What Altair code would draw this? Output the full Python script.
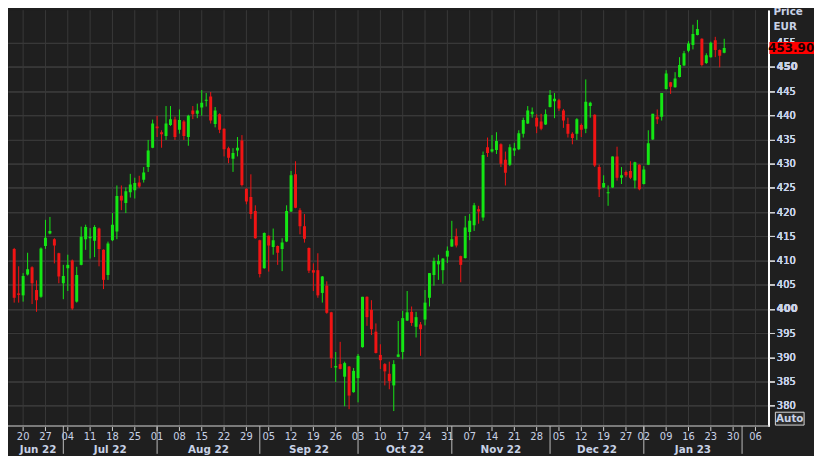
import altair as alt
import pandas as pd
import numpy as np

# ---- daily OHLC, first candle = 2022-06-16 ----
opens = [412.4, 403.2, 402.8, 407.1, 408.6, 403.9, 402.5, 413.0, 415.6, 414.4,
         411.5, 405.3, 408.4, 410.0, 401.5, 409.1, 414.4, 414.6, 414.1, 416.6,
         412.2, 407.0, 414.2, 416.0, 423.4, 421.9, 424.1, 424.5, 426.1, 426.7,
         429.3, 433.3, 437.7, 436.5, 435.7, 438.0, 439.1, 437.0, 438.7, 435.5,
         441.0, 440.3, 441.6, 443.0, 443.9, 438.2, 440.2, 437.2, 433.2, 431.0,
         432.7, 434.8, 424.8, 423.1, 420.2, 414.2, 408.4, 415.1, 412.8, 413.0,
         412.4, 413.9, 420.1, 427.8, 420.4, 417.1, 412.6, 408.0, 408.0, 403.3,
         404.8, 399.3, 387.9, 388.6, 386.0, 388.1, 382.8, 385.7, 392.1, 402.5,
         399.8, 395.3, 390.5, 388.6, 386.6, 384.2, 390.1, 391.1, 397.6, 399.4,
         396.3, 396.8, 397.8, 402.3, 407.0, 409.2, 408.0, 410.8, 412.9, 415.0,
         410.9, 410.5, 415.9, 417.3, 420.6, 418.9, 433.4, 432.5, 432.8, 434.0,
         430.8, 429.8, 432.7, 433.0, 436.2, 438.3, 440.2, 439.5, 438.7, 438.1,
         441.7, 442.9, 443.1, 441.0, 438.2, 436.2, 436.2, 438.0, 437.2, 441.9,
         440.1, 429.3, 425.1, 423.9, 425.1, 431.5, 427.1, 428.3, 428.5, 426.5,
         429.8, 425.8, 429.8, 435.0, 439.7, 439.7, 445.4, 446.8, 445.8, 447.9,
         450.3, 453.3, 454.5, 456.6, 455.8, 450.8, 452.0, 455.5, 453.5, 452.9]
highs = [412.6, 408.8, 407.4, 411.6, 408.8, 405.9, 412.7, 418.4, 419.0, 414.6,
         411.6, 409.1, 411.2, 410.2, 408.7, 417.0, 417.4, 416.7, 417.3, 416.8,
         412.3, 413.9, 419.8, 425.5, 425.5, 425.1, 427.9, 427.1, 427.5, 429.3,
         434.9, 439.1, 439.9, 436.9, 441.9, 441.9, 439.7, 441.2, 439.0, 440.1,
         441.9, 442.4, 445.2, 444.6, 444.8, 441.7, 440.4, 437.3, 433.5, 433.2,
         435.5, 435.9, 424.9, 427.8, 421.4, 414.3, 415.8, 415.2, 416.6, 413.1,
         414.6, 421.4, 428.5, 430.5, 420.8, 419.6, 412.7, 409.4, 411.5, 406.8,
         405.7, 399.4, 391.1, 393.2, 389.1, 388.2, 387.8, 390.7, 402.5, 402.6,
         401.8, 397.0, 392.7, 388.8, 389.1, 389.4, 397.5, 399.6, 403.7, 400.5,
         399.4, 397.3, 403.9, 407.4, 410.6, 411.2, 410.5, 412.9, 418.2, 416.6,
         411.0, 419.2, 419.6, 421.9, 421.3, 432.5, 435.4, 435.9, 436.5, 434.2,
         432.5, 434.0, 434.3, 436.9, 439.5, 441.9, 441.6, 440.2, 440.3, 441.2,
         445.2, 444.6, 443.4, 441.3, 439.5, 436.5, 439.4, 438.3, 447.4, 442.8,
         440.2, 429.8, 427.6, 425.5, 431.5, 433.5, 429.3, 428.6, 430.5, 430.4,
         429.9, 429.5, 436.9, 440.3, 441.2, 444.6, 449.3, 446.9, 448.9, 452.0,
         453.3, 455.3, 458.7, 459.7, 455.9, 452.8, 455.2, 456.2, 453.6, 455.8]
lows = [401.3, 401.3, 401.5, 406.9, 401.0, 399.4, 402.3, 412.4, 415.4, 409.4,
        405.3, 402.0, 403.7, 399.8, 401.3, 409.0, 412.2, 410.4, 410.7, 408.8,
        404.1, 406.0, 414.0, 414.4, 420.4, 419.8, 423.0, 422.8, 425.0, 426.1,
        428.3, 433.2, 435.5, 433.3, 434.9, 437.8, 434.9, 436.2, 434.9, 433.7,
        439.2, 439.4, 439.9, 441.8, 438.3, 437.5, 436.3, 431.5, 430.1, 428.3,
        431.5, 425.3, 421.6, 418.6, 414.5, 406.5, 408.3, 407.7, 411.2, 409.1,
        407.8, 413.8, 420.0, 420.8, 415.4, 413.7, 407.4, 403.7, 402.3, 401.3,
        399.0, 387.8, 384.9, 387.5, 379.9, 379.3, 382.7, 380.7, 392.0, 396.5,
        394.6, 390.8, 387.6, 384.2, 383.4, 378.9, 390.0, 389.6, 397.5, 396.5,
        394.1, 390.3, 396.6, 400.5, 404.8, 406.0, 405.2, 409.5, 412.8, 412.7,
        405.5, 410.4, 414.2, 416.1, 417.6, 418.2, 431.4, 432.3, 432.0, 429.3,
        425.5, 429.5, 431.6, 432.8, 435.4, 438.2, 439.5, 436.3, 436.9, 438.0,
        441.6, 439.4, 440.9, 437.4, 435.4, 434.0, 434.9, 435.5, 436.3, 439.5,
        429.3, 423.1, 425.0, 421.3, 425.0, 426.5, 425.8, 427.2, 426.8, 424.9,
        424.5, 425.7, 429.7, 434.9, 438.2, 438.9, 445.3, 444.4, 445.7, 447.8,
        450.2, 453.0, 453.6, 456.5, 450.1, 450.6, 451.9, 452.0, 449.9, 452.8]
closes = [402.3, 402.9, 406.8, 408.2, 405.3, 401.8, 412.5, 414.7, 416.1, 413.1,
          406.7, 406.8, 409.1, 400.1, 407.0, 414.9, 416.9, 414.9, 416.9, 412.4,
          406.0, 413.5, 417.4, 423.3, 422.4, 424.3, 425.7, 426.0, 425.3, 428.2,
          432.7, 438.3, 437.3, 436.1, 438.3, 439.2, 435.5, 439.0, 435.7, 439.9,
          440.2, 441.0, 442.6, 443.2, 438.9, 441.0, 437.0, 433.0, 431.2, 432.2,
          433.3, 425.6, 422.2, 419.6, 414.6, 407.2, 415.7, 413.1, 414.2, 411.6,
          413.7, 420.2, 427.6, 420.9, 417.1, 414.5, 407.9, 407.5, 402.8, 406.7,
          399.2, 389.8, 388.2, 387.6, 388.8, 382.1, 387.2, 390.3, 402.5, 398.3,
          395.8, 390.9, 389.4, 387.1, 385.1, 388.6, 390.6, 398.1, 399.3, 397.1,
          398.3, 395.8, 401.3, 407.4, 409.9, 409.9, 410.4, 412.0, 414.4, 413.1,
          409.1, 416.8, 418.2, 421.4, 420.1, 431.8, 432.2, 433.0, 434.7, 430.0,
          428.1, 433.4, 433.2, 436.3, 439.0, 441.0, 440.7, 437.7, 437.2, 440.2,
          444.2, 443.4, 441.4, 438.9, 436.2, 435.3, 439.2, 437.0, 442.8, 442.6,
          429.6, 424.7, 426.0, 424.1, 431.5, 427.1, 427.6, 427.6, 427.1, 430.3,
          424.7, 428.8, 434.2, 440.3, 439.2, 444.6, 448.6, 445.9, 447.6, 450.4,
          452.8, 454.8, 456.8, 457.8, 450.4, 452.4, 455.0, 453.5, 452.3, 453.9]

start_date = "2022-06-16"
axis_end_date = "2023-02-10"
holidays = ["2022-12-26"]
month_names = ["Jun 22", "Jul 22", "Aug 22", "Sep 22", "Oct 22", "Nov 22", "Dec 22", "Jan 23"]
y_ticks = list(range(380, 460, 5))
last_price_text = "453.90"
header_lines = ["Price", "EUR"]

# ---- derived tables ----
days = pd.bdate_range(start_date, axis_end_date)
days = days[~days.isin(pd.to_datetime(holidays))]
n = len(opens)

X_MIN, X_MAX = -0.28, 167.8
Y_MIN, Y_MAX = 375.8, 461.7
W, H = 768, 420

candles = pd.DataFrame({"i": range(n), "open": opens, "high": highs, "low": lows, "close": closes})
candles["dir"] = np.where(candles["close"] >= candles["open"], "up", "down")

week_i, week_lab = [], []
month_i = []
for k in range(1, len(days)):
    if k > X_MAX:
        break
    if days[k].isocalendar().week != days[k - 1].isocalendar().week:
        week_i.append(k)
        week_lab.append(days[k].strftime("%d"))
    if days[k].month != days[k - 1].month:
        month_i.append(k)
weeks = pd.DataFrame({"i": week_i, "label": week_lab})
months_sep = pd.DataFrame({"i": month_i})
bounds = [X_MIN] + month_i
months = pd.DataFrame({"i": [(bounds[k] + bounds[k + 1]) / 2 for k in range(len(month_names))],
                       "label": month_names})
last = pd.DataFrame({"close": [closes[-1]], "label": [last_price_text]})
one = pd.DataFrame({"a": [0]})

BG = "#1f1f1f"
GRID = "#393939"
UP = "#14e614"
DOWN = "#f01414"
TXT = "#c8d2e6"
FONT = "DejaVu Sans"

xs = alt.Scale(domain=[X_MIN, X_MAX], nice=False, zero=False)
ys = alt.Scale(domain=[Y_MIN, Y_MAX], nice=False, zero=False)
yax = alt.Axis(orient="right", values=y_ticks, grid=True, gridColor=GRID, gridWidth=1,
               domainColor="#ffffff", domainWidth=1.5, tickColor="#d0d0d0", tickSize=6,
               labelColor=TXT, labelFont=FONT, labelFontSize=10, labelPadding=2,
               labelFontWeight=alt.condition("datum.value % 50 === 0", alt.value("bold"), alt.value("normal")),
               title=None)
X = lambda f: alt.X(f"{f}:Q", scale=xs, axis=None)
Y = lambda f: alt.Y(f"{f}:Q", scale=ys, axis=yax)
col = alt.Color("dir:N", scale=alt.Scale(domain=["up", "down"], range=[UP, DOWN]), legend=None)

vgrid = alt.Chart(weeks).mark_rule(color=GRID, strokeWidth=1).encode(
    x=X("i"), y=alt.value(0), y2=alt.value(H))

wicks = alt.Chart(candles).mark_rule(strokeWidth=1, clip=True).encode(
    x=X("i"), y=Y("low"), y2=alt.Y2("high"), color=col)
bodies = alt.Chart(candles).mark_bar(size=3, clip=True).encode(
    x=X("i"), y=Y("open"), y2=alt.Y2("close"), color=col)

bottom_line = alt.Chart(one).mark_rule(color="#9a9a9a", strokeWidth=1.5).encode(
    x=alt.value(0), x2=alt.value(W), y=alt.value(H))
week_ticks = alt.Chart(weeks).mark_rule(color="#d0d0d0", strokeWidth=1).encode(
    x=X("i"), y=alt.value(H + 1), y2=alt.value(H + 5))
week_text = alt.Chart(weeks).mark_text(font=FONT, fontSize=10, color=TXT, baseline="middle").encode(
    x=X("i"), y=alt.value(H + 11), text="label:N")
month_sep = alt.Chart(months_sep).mark_rule(color="#bdbdbd", strokeWidth=1).encode(
    x=X("i"), y=alt.value(H), y2=alt.value(H + 28))
month_text = alt.Chart(months).mark_text(font=FONT, fontSize=10.5, fontWeight="bold", color=TXT,
                                         baseline="middle").encode(
    x=X("i"), y=alt.value(H + 24), text="label:N")

price_box = alt.Chart(last).mark_rule(color="#ff0000", strokeWidth=12, strokeCap="butt").encode(
    x=alt.value(W + 1), x2=alt.value(W + 46), y=Y("close"))
price_text = alt.Chart(last).mark_text(font=FONT, fontSize=12, fontWeight="bold", color="#1a0000",
                                       align="center", baseline="middle").encode(
    x=alt.value(W + 23), y=Y("close"), text="label:N")

hdr = pd.DataFrame({"t": header_lines, "row": [0, 1]})
header = alt.Chart(hdr).mark_text(font=FONT, fontSize=10.5, fontWeight="bold", color=TXT,
                                  align="left", baseline="alphabetic").encode(
    x=alt.value(W + 5), y=alt.Y("row:Q", scale=alt.Scale(domain=[0, 1], range=[5, 20]), axis=None),
    text="t:N")

auto_box = alt.Chart(one).mark_rect(fill="#2c2c2c", stroke="#d8d8d8", strokeWidth=1).encode(
    x=alt.value(W + 7), x2=alt.value(W + 36), y=alt.value(H - 14), y2=alt.value(H - 1))
auto_text = alt.Chart(one).mark_text(font=FONT, fontSize=10.5, fontWeight="bold", color=TXT,
                                     align="center", baseline="middle").encode(
    x=alt.value(W + 21.5), y=alt.value(H - 7.5), text=alt.value("Auto"))

chart = alt.layer(
    vgrid, wicks, bodies, bottom_line, week_ticks, week_text, month_sep, month_text,
    price_box, price_text, header, auto_box, auto_text
).resolve_scale(y="independent").properties(
    width=W, height=H,
    autosize=alt.AutoSizeParams(type="none"),
    padding={"left": 0, "top": 0, "right": 46, "bottom": 28},
).configure(background=BG).configure_view(strokeWidth=0, fill=BG)

chart.save("out.html", embed_options={"renderer": "svg", "actions": False})
